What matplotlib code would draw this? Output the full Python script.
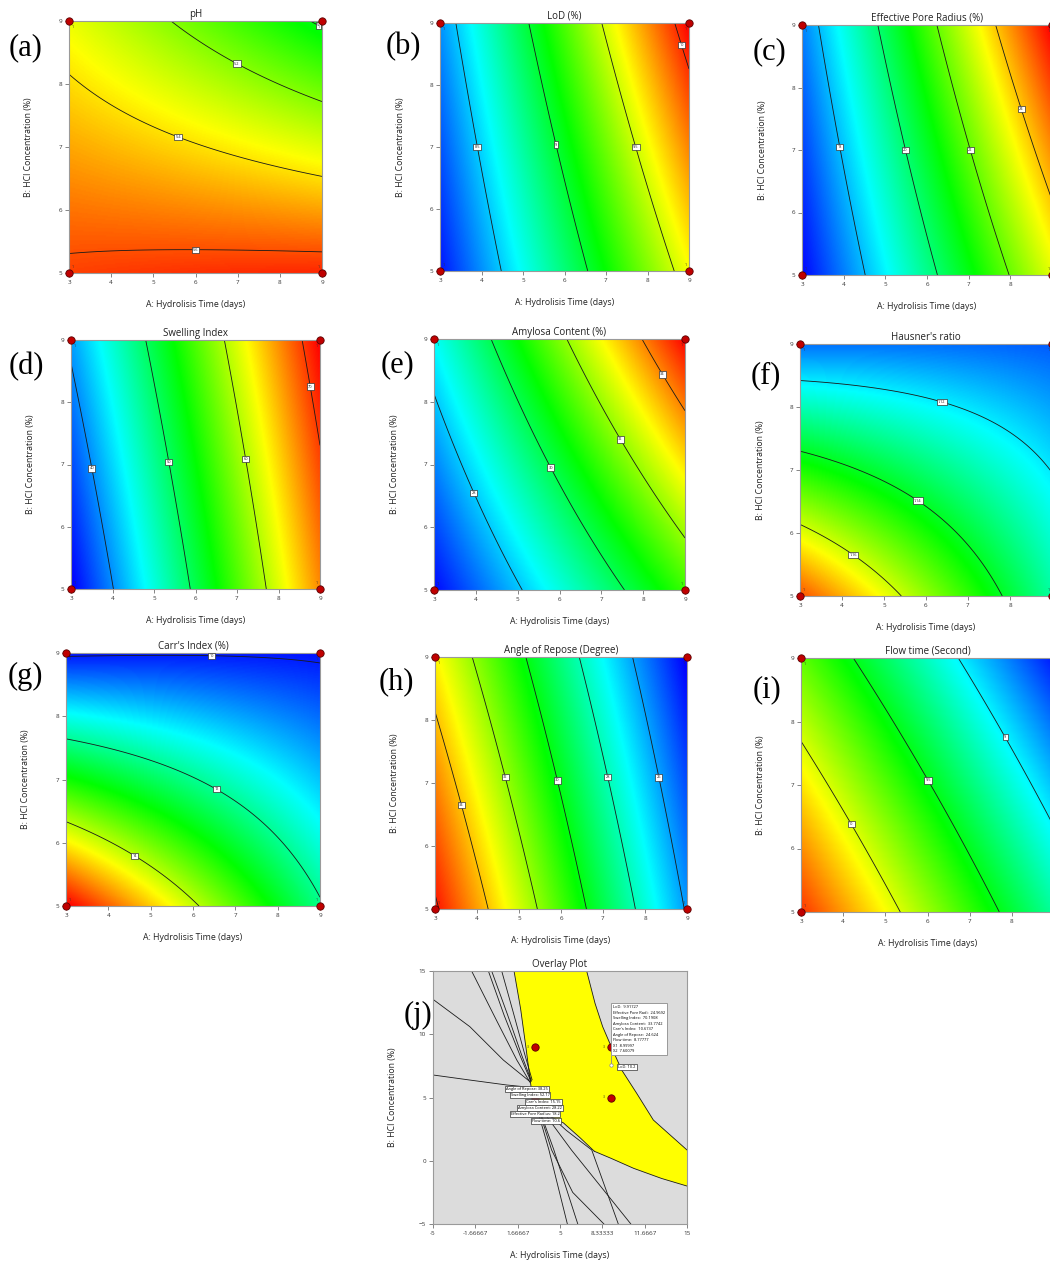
import numpy as np
import matplotlib
matplotlib.use("Agg")
import matplotlib.pyplot as plt
from matplotlib.colors import LinearSegmentedColormap

plt.rcParams['font.family'] = ['Open Sans', 'DejaVu Sans']

W, H = 1050, 1261
fig = plt.figure(figsize=(W / 100, H / 100), dpi=100)

# ---------------- data ----------------
# contour traces (A = hydrolysis time, B = HCl concentration, value = contour level)
ph_A = [3, 6, 9, 3, 4.5, 5.59, 7, 9, 5.34, 6.97, 8, 9, 8.83, 9]
ph_B = [5.28, 5.38, 5.35, 8.14, 7.58, 7.15, 6.82, 6.52, 9, 8.32, 8.0, 7.71, 9, 8.88]
ph_val = [5.6] * 3 + [5.4] * 5 + [5.2] * 4 + [5.0] * 2
ph_levels = [5.0, 5.2, 5.4, 5.6]
ph_lab_A = [6.0, 5.59, 6.97, 8.93]
ph_lab_B = [5.37, 7.15, 8.32, 8.95]

lod_A = [3.38, 3.90, 4.48, 5.14, 5.80, 6.55, 6.90, 7.71, 8.65, 8.65, 8.83, 9.0]
lod_B = [9, 7.0, 5, 9, 7.04, 5, 9, 7.0, 5, 9, 8.65, 8.24]
lod_val = [8.5] * 3 + [9.0] * 3 + [9.5] * 3 + [10.0] * 3
lod_levels = [8.5, 9.0, 9.5, 10.0]
lod_lab_A = [3.90, 5.80, 7.71, 8.83]
lod_lab_B = [7.0, 7.04, 7.0, 8.65]

epr_A = [3.40, 3.91, 4.51, 4.81, 5.49, 6.25, 6.23, 7.04, 7.98, 7.66, 8.26, 8.96]
epr_B = [9, 7.05, 5, 9, 7.0, 5, 9, 7.0, 5, 9, 7.65, 6.26]
epr_val = [18] * 3 + [20] * 3 + [22] * 3 + [24] * 3
epr_levels = [18, 20, 22, 24]
epr_lab_A = [3.91, 5.49, 7.04, 8.26]
epr_lab_B = [7.05, 7.0, 7.0, 7.65]

si_A = [3.0, 3.52, 4.02, 4.82, 5.35, 5.87, 6.69, 7.2, 7.71, 8.57, 8.76, 9.0]
si_B = [8.57, 6.94, 5, 9, 7.04, 5, 9, 7.09, 5, 9, 8.25, 7.34]
si_val = [40] * 3 + [50] * 3 + [60] * 3 + [70] * 3
si_levels = [40, 50, 60, 70]
si_lab_A = [3.52, 5.35, 7.2, 8.76]
si_lab_B = [6.94, 7.04, 7.09, 8.25]

ac_A = [3.0, 3.96, 5.10, 4.37, 5.79, 7.56, 6.16, 7.46, 9.0, 7.98, 8.47, 9.0]
ac_B = [8.12, 6.55, 5, 9, 6.95, 5, 9, 7.40, 5.83, 9, 8.44, 7.84]
ac_val = [28] * 3 + [30] * 3 + [32] * 3 + [34] * 3
ac_levels = [28, 30, 32, 34]
ac_lab_A = [3.96, 5.79, 7.46, 8.47]
ac_lab_B = [6.55, 6.95, 7.40, 8.44]

hr_A = [3.0, 6.38, 8.0, 8.95, 3.0, 5.78, 6.97, 7.79, 3.0, 4.28, 5.39]
hr_B = [8.43, 8.09, 7.56, 7.03, 7.28, 6.49, 5.9, 5.0, 6.14, 5.67, 5.0]
hr_val = [1.12] * 4 + [1.14] * 4 + [1.16] * 3
hr_levels = [1.12, 1.14, 1.16]
hr_lab_A = [6.38, 5.78, 4.28]
hr_lab_B = [8.09, 6.49, 5.67]

ci_A = [3.0, 6.44, 9.0, 3.0, 6.55, 7.73, 9.0, 3.0, 4.65, 6.11]
ci_B = [8.95, 8.95, 8.85, 7.64, 6.84, 6.26, 5.15, 6.32, 5.82, 5.0]
ci_val = [10] * 3 + [12] * 4 + [14] * 3
ci_levels = [10, 12, 14]
ci_lab_A = [6.44, 6.55, 4.65]
ci_lab_B = [8.95, 6.84, 5.82]

aor_A = [3.0, 3.09, 3.0, 3.64, 4.25, 3.89, 4.66, 5.44, 5.16, 5.91, 6.63,
         6.44, 7.11, 7.76, 7.70, 8.34, 8.93]
aor_B = [5.25, 5.0, 8.13, 6.65, 5, 9, 7.09, 5, 9, 7.04, 5, 9, 7.09, 5, 9, 7.09, 5]
aor_val = [36] * 2 + [34] * 3 + [32] * 3 + [30] * 3 + [28] * 3 + [26] * 3
aor_levels = [26, 28, 30, 32, 34, 36]
aor_lab_A = [3.64, 4.66, 5.91, 7.11, 8.34]
aor_lab_B = [6.65, 7.09, 7.04, 7.09, 7.09]

ft_A = [3.0, 4.20, 5.36, 4.26, 6.01, 7.69, 6.72, 7.84, 8.89]
ft_B = [7.67, 6.39, 5.0, 9.0, 7.07, 5.0, 9.0, 7.75, 6.50]
ft_val = [10] * 3 + [9.5] * 3 + [9] * 3
ft_levels = [9, 9.5, 10]
ft_lab_A = [4.20, 6.01, 7.84]
ft_lab_B = [6.39, 7.07, 7.75]

titles = ["pH", "LoD (%)", "Effective Pore Radius (%)", "Swelling Index",
          "Amylosa Content (%)", "Hausner's ratio", "Carr's Index (%)",
          "Angle of Repose (Degree)", "Flow time (Second)"]
letters = ["(a)", "(b)", "(c)", "(d)", "(e)", "(f)", "(g)", "(h)", "(i)", "(j)"]

design_A = [3, 3, 9, 9]
design_B = [5, 9, 5, 9]

# overlay plot (j)
ov_left_A = [1.38, 1.9, 2.32, 2.72, 3.1, 4.0, 5.26, 6.6, 7.7]
ov_left_B = [15, 12, 8.94, 5.86, 4.6, 3.6, 3.0, 1.8, 0.75]
ov_bottom_A = [7.7, 9.0, 10.8, 13.0, 15.0]
ov_bottom_B = [0.75, 0.2, -0.6, -1.4, -2.0]
ov_right_A = [15.0, 12.35, 11.04, 9.86, 9.07, 8.36, 7.76, 7.1]
ov_right_B = [0.85, 3.22, 5.33, 7.17, 8.94, 10.6, 12.44, 15]
ov_lines = [
    ([-5, -2.1, 0.54, 2.64], [12.76, 10.6, 7.96, 6.25]),
    ([-1.96, 0.0, 1.6, 2.64], [15, 11.1, 7.96, 6.2]),
    ([-0.64, 0.6, 1.9, 2.7], [15, 11.5, 8.2, 6.3]),
    ([-0.38, 0.85, 2.0, 2.75], [15, 11.6, 8.3, 6.3]),
    ([0.41, 1.3, 2.2, 2.8], [15, 11.8, 8.5, 6.4]),
    ([-5, -2.1, 0.8, 2.7], [6.78, 6.38, 5.99, 5.8]),
    ([2.8, 4.13, 5.58], [5.5, 0.85, -5]),
    ([2.85, 4.52, 6.4], [5.5, 0.85, -5]),
    ([2.9, 4.34, 6.0, 8.46], [5.4, 0.85, -2.5, -5]),
    ([3.0, 5.9, 10.58], [4.8, 0.85, -5]),
    ([3.1, 5.5, 7.5, 9.59], [4.6, 2.4, 0.85, -5]),
]
ov_labels = ["Angle of Repose: 38.25", "Swelling Index: 52.17", "Carr's Index: 15.15",
             "Amylosa Content: 28.22", "Effective Pore Radius: 18.2", "Flow time: 10.6"]
ov_label_A = [2.40, 2.64, 3.69, 3.40, 3.03, 3.90]
ov_label_B = [5.70, 5.17, 4.64, 4.20, 3.67, 3.17]
flag_A, flag_B = 8.99997, 7.60079
flag_lines = ["LoD:  9.91727", "Effective Pore Radi:  24.9692", "Swelling Index:  70.1908",
              "Amylosa Content:  33.7742", "Carr's Index:  10.6737", "Angle of Repose:  24.624",
              "Flow time:  8.77777", "X1  8.99997", "X2  7.60079"]
ov_xticks = [-5, -1.66667, 1.66667, 5, 8.33333, 11.6667, 15]
ov_xticklabels = ["-5", "-1.66667", "1.66667", "5", "8.33333", "11.6667", "15"]
ov_yticks = [-5, 0, 5, 10, 15]

# ---------------- helpers ----------------
cmap = LinearSegmentedColormap.from_list(
    "de", ["#0000ff", "#00ffff", "#00ff00", "#ffff00", "#ff0000"])


def rect(x0, y0, x1, y1):
    return [x0 / W, 1 - y1 / H, (x1 - x0) / W, (y1 - y0) / H]


def quad_fit(A, B, Z):
    a = np.asarray(A, float) - 6
    b = np.asarray(B, float) - 7
    M = np.column_stack([np.ones_like(a), a, b, a * b, a * a, b * b])
    coef, *_ = np.linalg.lstsq(M, np.asarray(Z, float), rcond=None)
    return coef


def quad_eval(c, A, B):
    a = A - 6
    b = B - 7
    return c[0] + c[1] * a + c[2] * b + c[3] * a * b + c[4] * a * a + c[5] * b * b


def style_axes(ax, px_rect, title):
    x0, y0, x1, y1 = px_rect
    wpx, hpx = x1 - x0, y1 - y0
    for s in ax.spines.values():
        s.set_color("#9a9a9a")
        s.set_linewidth(0.8)
    ax.tick_params(labelsize=4.5, length=3, width=0.5, color="#555555",
                   pad=2, labelcolor="#333333")
    ax.set_title(title, fontsize=7, pad=3, color="#222222")
    ax.set_xlabel("A: Hydrolisis Time (days)", fontsize=6.3, color="#222222")
    ax.set_ylabel("B: HCl Concentration (%)", fontsize=6.3, color="#222222")
    ax.xaxis.set_label_coords(0.5, -27 / hpx)
    ax.yaxis.set_label_coords(-35.5 / wpx, 0.5)


panel_rects = [
    (69, 21, 322, 273), (440, 23, 689, 271), (802, 25, 1052, 275),
    (71, 340, 320, 589), (434, 339, 685, 590), (800, 344, 1052, 596),
    (66, 653, 320, 906), (435, 657, 687, 909), (801, 658, 1054, 912),
]
panel_data = [
    (ph_A, ph_B, ph_val, ph_levels, ph_lab_A, ph_lab_B, 4.33, 5.71),
    (lod_A, lod_B, lod_val, lod_levels, lod_lab_A, lod_lab_B, 8.1, 10.1),
    (epr_A, epr_B, epr_val, epr_levels, epr_lab_A, epr_lab_B, 16.2, 25.9),
    (si_A, si_B, si_val, si_levels, si_lab_A, si_lab_B, 34.7, 72.3),
    (ac_A, ac_B, ac_val, ac_levels, ac_lab_A, ac_lab_B, 26.2, 35.2),
    (hr_A, hr_B, hr_val, hr_levels, hr_lab_A, hr_lab_B, 1.10, 1.186),
    (ci_A, ci_B, ci_val, ci_levels, ci_lab_A, ci_lab_B, 9.8, 16.0),
    (aor_A, aor_B, aor_val, aor_levels, aor_lab_A, aor_lab_B, 24.0, 36.4),
    (ft_A, ft_B, ft_val, ft_levels, ft_lab_A, ft_lab_B, 8.49, 10.61),
]
right_column = {2, 5, 8}

gA = np.linspace(3, 9, 301)
gB = np.linspace(5, 9, 201)
AA, BB = np.meshgrid(gA, gB)

for i, (pr, pdata) in enumerate(zip(panel_rects, panel_data)):
    A, B, V, levels, lA, lB, vmin, vmax = pdata
    ax = fig.add_axes(rect(*pr))
    coef = quad_fit(A, B, V)
    Z = quad_eval(coef, AA, BB)
    ax.imshow(Z, extent=[3, 9, 5, 9], origin="lower", aspect="auto",
              cmap=cmap, vmin=vmin, vmax=vmax, interpolation="bilinear")
    cs = ax.contour(AA, BB, Z, levels=levels, colors="#1a1a1a", linewidths=0.6)
    texts = ax.clabel(cs, manual=list(zip(lA, lB)), inline=False,
                      fontsize=2.8, fmt=lambda v: "%g" % v, colors="#222222")
    for t in texts:
        t.set_rotation(0)
        t.set_bbox(dict(boxstyle="square,pad=0.3", fc="white", ec="#333333", lw=0.5))
        t.set_zorder(6)
    ax.set_xlim(3, 9)
    ax.set_ylim(5, 9)
    # the right-hand column is cut by the figure edge, so its "9" label is not visible
    ax.set_xticks(range(3, 9) if i in right_column else range(3, 10))
    ax.set_yticks(range(5, 10))
    ax.scatter(design_A, design_B, s=28, c="#c00000", edgecolors="#5a0000",
               linewidths=0.6, zorder=8, clip_on=False)
    for da, db in zip(design_A, design_B):
        ax.text(da + (0.06 if da == 3 else -0.06), db + (0.06 if db == 5 else -0.06), "1",
                fontsize=2.5, color="#333333",
                ha="left" if da == 3 else "right",
                va="bottom" if db == 5 else "top", zorder=7)
    style_axes(ax, pr, titles[i])

# ---------------- overlay plot ----------------
jr = (433, 971, 687, 1224)
ax = fig.add_axes(rect(*jr))
ax.set_facecolor("#dcdcdc")
poly_A = ov_left_A + ov_bottom_A[1:] + ov_right_A + [ov_left_A[0]]
poly_B = ov_left_B + ov_bottom_B[1:] + ov_right_B + [ov_left_B[0]]
ax.fill(poly_A, poly_B, color="#ffff00", zorder=1, lw=0)
for xs, ys in [(ov_left_A, ov_left_B), (ov_bottom_A, ov_bottom_B), (ov_right_A, ov_right_B)]:
    ax.plot(xs, ys, color="#1a1a1a", lw=0.6, zorder=2)
for xs, ys in ov_lines:
    ax.plot(xs, ys, color="#1a1a1a", lw=0.6, zorder=2)
ax.scatter(design_A, design_B, s=28, c="#c00000", edgecolors="#5a0000",
           linewidths=0.6, zorder=8)
for da, db in zip(design_A, design_B):
    ax.text(da - 0.45, db, "3", fontsize=2.5, color="#333333", ha="right", va="center", zorder=7)
for txt, la, lb in zip(ov_labels, ov_label_A, ov_label_B):
    ax.text(la, lb, txt, fontsize=2.9, ha="center", va="center", zorder=9,
            bbox=dict(boxstyle="square,pad=0.25", fc="white", ec="#333333", lw=0.5))
ax.text(10.28, 7.38, "LoD: 10.2", fontsize=2.9, ha="center", va="center", zorder=9,
        bbox=dict(boxstyle="square,pad=0.25", fc="white", ec="#333333", lw=0.5))
ax.plot([flag_A, flag_A], [flag_B, 8.3], color="#888888", lw=0.6, zorder=9)
ax.scatter([flag_A], [flag_B], s=6, facecolors="white", edgecolors="#888888",
           linewidths=0.5, zorder=10)
ax.text(9.15, 12.3, "\n".join(flag_lines), fontsize=2.9, ha="left", va="top",
        linespacing=1.5, zorder=9,
        bbox=dict(boxstyle="square,pad=0.5", fc="white", ec="#999999", lw=0.7))
ax.set_xlim(-5, 15)
ax.set_ylim(-5, 15)
ax.set_xticks(ov_xticks)
ax.set_xticklabels(ov_xticklabels)
ax.set_yticks(ov_yticks)
style_axes(ax, jr, "Overlay Plot")

# panel letters
letter_pos = [(26, 48), (403, 47), (770, 52), (26, 367), (397, 365), (766, 376),
              (25, 676), (396, 682), (767, 690), (418, 1015)]
for lt, (lx, ly) in zip(letters, letter_pos):
    fig.text(lx / W, 1 - ly / H, lt, fontsize=22, family="Liberation Serif",
             ha="center", va="center", color="black")

fig.savefig("out.png", dpi=100)
